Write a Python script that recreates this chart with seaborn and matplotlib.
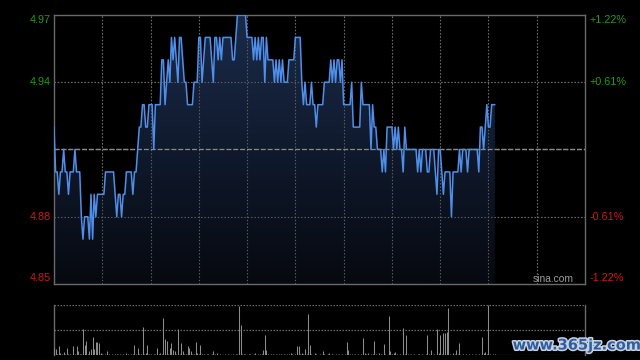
import numpy as np
import matplotlib
matplotlib.use("Agg")
import matplotlib.pyplot as plt
import seaborn as sns
import matplotlib.patheffects as pe
from matplotlib.patches import Polygon

# ---------------- data ----------------
minutes = list(range(275))
price = [
    4.92, 4.90, 4.90, 4.89, 4.90, 4.90, 4.91, 4.90, 4.90, 4.89,
    4.90, 4.90, 4.90, 4.91, 4.90, 4.90, 4.90, 4.88, 4.87, 4.88,
    4.88, 4.88, 4.87, 4.89, 4.87, 4.89, 4.88, 4.89, 4.89, 4.89,
    4.89, 4.89, 4.90, 4.90, 4.90, 4.90, 4.90, 4.90, 4.89, 4.88,
    4.89, 4.89, 4.88, 4.89, 4.89, 4.90, 4.90, 4.90, 4.90, 4.89,
    4.90, 4.90, 4.91, 4.92, 4.92, 4.93, 4.93, 4.92, 4.92, 4.93,
    4.93, 4.93, 4.91, 4.93, 4.93, 4.93, 4.93, 4.95, 4.95, 4.93,
    4.94, 4.95, 4.94, 4.96, 4.95, 4.96, 4.95, 4.94, 4.96, 4.96,
    4.95, 4.94, 4.94, 4.93, 4.93, 4.93, 4.93, 4.94, 4.94, 4.94,
    4.96, 4.96, 4.94, 4.95, 4.96, 4.96, 4.96, 4.96, 4.95, 4.94,
    4.96, 4.96, 4.95, 4.96, 4.95, 4.96, 4.96, 4.96, 4.96, 4.96,
    4.96, 4.95, 4.95, 4.96, 4.97, 4.97, 4.97, 4.97, 4.97, 4.97,
    4.96, 4.96, 4.96, 4.96, 4.95, 4.96, 4.95, 4.96, 4.95, 4.96,
    4.96, 4.94, 4.96, 4.95, 4.95, 4.95, 4.95, 4.94, 4.95, 4.94,
    4.95, 4.94, 4.95, 4.94, 4.94, 4.94, 4.95, 4.95, 4.95, 4.95,
    4.96, 4.96, 4.96, 4.96, 4.94, 4.93, 4.94, 4.93, 4.93, 4.93,
    4.94, 4.93, 4.93, 4.92, 4.93, 4.93, 4.93, 4.93, 4.94, 4.94,
    4.94, 4.94, 4.95, 4.94, 4.95, 4.94, 4.95, 4.95, 4.94, 4.95,
    4.93, 4.93, 4.93, 4.93, 4.93, 4.94, 4.92, 4.92, 4.92, 4.92,
    4.92, 4.94, 4.93, 4.93, 4.93, 4.93, 4.93, 4.91, 4.93, 4.92,
    4.92, 4.91, 4.91, 4.91, 4.90, 4.91, 4.90, 4.92, 4.92, 4.92,
    4.92, 4.91, 4.92, 4.91, 4.92, 4.91, 4.91, 4.90, 4.92, 4.91,
    4.91, 4.91, 4.91, 4.91, 4.91, 4.91, 4.90, 4.91, 4.90, 4.91,
    4.91, 4.91, 4.90, 4.90, 4.91, 4.91, 4.91, 4.90, 4.89, 4.91,
    4.91, 4.90, 4.89, 4.90, 4.90, 4.90, 4.90, 4.88, 4.90, 4.90,
    4.90, 4.90, 4.91, 4.90, 4.91, 4.91, 4.91, 4.90, 4.91, 4.91,
    4.91, 4.91, 4.91, 4.91, 4.90, 4.92, 4.92, 4.91, 4.92, 4.93,
    4.92, 4.92, 4.93, 4.93, 4.93,
]
volume = [
    15, 13, 2, 19, 5, 3, 7, 2, 15, 3,
    2, 1, 19, 2, 19, 8, 2, 3, 53, 21,
    29, 2, 9, 12, 37, 13, 27, 26, 25, 5,
    2, 1, 2, 9, 2, 1, 2, 1, 3, 2,
    1, 2, 1, 2, 1, 5, 2, 1, 2, 3,
    21, 2, 15, 3, 2, 57, 2, 5, 21, 2,
    3, 1, 2, 2, 15, 2, 5, 2, 74, 33,
    29, 3, 14, 24, 10, 9, 2, 53, 3, 24,
    9, 2, 2, 18, 14, 9, 2, 3, 26, 5,
    2, 21, 2, 3, 1, 2, 3, 1, 2, 9,
    2, 5, 1, 2, 1, 1, 2, 1, 2, 1,
    1, 2, 1, 2, 3, 98, 61, 2, 3, 2,
    1, 2, 3, 1, 2, 5, 1, 2, 2, 3,
    10, 41, 10, 2, 1, 3, 2, 1, 2, 1,
    3, 2, 1, 2, 1, 2, 3, 5, 2, 1,
    2, 19, 19, 2, 5, 2, 12, 3, 82, 21,
    2, 1, 5, 2, 1, 2, 1, 9, 2, 1,
    2, 5, 1, 2, 1, 2, 1, 2, 1, 2,
    1, 2, 27, 10, 2, 3, 1, 2, 1, 2,
    1, 2, 35, 5, 2, 5, 1, 2, 2, 29,
    2, 1, 5, 2, 1, 23, 2, 1, 78, 9,
    2, 5, 7, 2, 1, 2, 1, 55, 2, 41,
    3, 1, 2, 1, 2, 1, 2, 3, 1, 2,
    1, 2, 41, 2, 10, 1, 2, 1, 53, 5,
    40, 2, 44, 45, 46, 94, 2, 1, 5, 2,
    10, 2, 25, 1, 2, 1, 3, 1, 2, 1,
    3, 1, 2, 1, 2, 1, 37, 5, 7, 2,
    100, 3, 1, 2, 2,
]
prev_close = 4.91
left_ticks = [4.97, 4.94, 4.88, 4.85]
left_labels = ["4.97", "4.94", "4.88", "4.85"]
right_labels = ["+1.22%", "+0.61%", "-0.61%", "-1.22%"]
label_colors = ["#1f9a1f", "#1f9a1f", "#cc1a1a", "#cc1a1a"]
grid_minutes = [30, 60, 90, 120, 150, 180, 210, 240, 270, 300]

# ---------------- style ----------------
sns.set_theme(style="dark")
plt.rcParams['font.family'] = ['Liberation Sans', 'DejaVu Sans']

W, H = 640, 360
fig = plt.figure(figsize=(6.4, 3.6), dpi=100, facecolor="black")

def fx(px):
    return px / W

def fy(py):
    return 1 - py / H

ax = fig.add_axes([fx(54), fy(284), fx(585) - fx(54), fy(15) - fy(284)])
axv = fig.add_axes([fx(54), fy(355), fx(585) - fx(54), fy(305) - fy(355)])

YMIN, YMAX = 4.85, 4.97
XMAX = 330
grid_c = "#6a6a6a"
border_c = "#6a6a6a"

for a in (ax, axv):
    a.set_facecolor("black")
    a.set_xlim(0, XMAX)
    a.set_xticks([])
    a.set_yticks([])
    a.grid(False)
    a.set_xlabel("")
    a.set_ylabel("")

ax.set_ylim(YMIN, YMAX)
for s in ax.spines.values():
    s.set_color(border_c)
    s.set_linewidth(1.0)
    s.set_visible(True)

# grid lines of the price panel
for m in grid_minutes:
    ax.axvline(m, color=grid_c, lw=0.8, ls=(0, (1.2, 1.8)), zorder=1)
for yv in (4.94, 4.88):
    ax.axhline(yv, color=grid_c, lw=0.8, ls=(0, (1.2, 1.8)), zorder=1)
ax.axhline(prev_close, color="#8a8a8a", lw=0.9, ls=(0, (4, 1.5)), zorder=1)

# gradient area under the line
grad = np.linspace(1, 0, 256).reshape(-1, 1)
c_top = np.array([0x1a, 0x2b, 0x4a]) / 255
c_bot = np.array([0x06, 0x09, 0x10]) / 255
img = c_bot + (c_top - c_bot) * grad[..., None]
img = img.reshape(256, 1, 3)
im = ax.imshow(img, extent=[0, XMAX, YMIN, YMAX], aspect="auto", origin="upper", zorder=2)
poly_pts = [(minutes[0], YMIN)] + list(zip(minutes, price)) + [(minutes[-1], YMIN)]
clip = Polygon(poly_pts, closed=True, transform=ax.transData, facecolor="none", edgecolor="none")
ax.add_patch(clip)
im.set_clip_path(clip)

# grid lines over fill too (they show faintly through)
for m in grid_minutes:
    ax.axvline(m, color=grid_c, lw=0.8, ls=(0, (1.2, 1.8)), zorder=3, alpha=0.9)
for yv in (4.94, 4.88):
    ax.axhline(yv, color=grid_c, lw=0.8, ls=(0, (1.2, 1.8)), zorder=3, alpha=0.9)
ax.axhline(prev_close, color="#8a8a8a", lw=0.9, ls=(0, (4, 1.5)), zorder=3)

sns.lineplot(x=minutes, y=price, ax=ax, color="#4f8fea", lw=1.1, zorder=5, legend=False)
ax.set_xlim(0, XMAX)
ax.set_ylim(YMIN, YMAX)
ax.set_xlabel("")
ax.set_ylabel("")

# axis labels (left prices, right percentages)
ypix = [20, 82, 217, 278]
for yp, lt, rt, c in zip(ypix, left_labels, right_labels, label_colors):
    fig.text(fx(51), fy(yp), lt, color=c, fontsize=7.8, ha="right", va="center")
    fig.text(fx(590), fy(yp), rt, color=c, fontsize=7.8, ha="left", va="center")

fig.text(fx(553), fy(279.5), "sina.com", color="#9a9a9a", fontsize=7.4, ha="center", va="center")

# ---------------- volume panel ----------------
axv.set_ylim(0, 100)
for side in ("left", "right"):
    axv.spines[side].set_color(border_c)
    axv.spines[side].set_linewidth(1.0)
    axv.spines[side].set_visible(True)
for side in ("top", "bottom"):
    axv.spines[side].set_visible(False)
axv.axhline(100, color=grid_c, lw=0.9, ls=(0, (1.2, 1.2)), zorder=1)
axv.axhline(50, color=grid_c, lw=0.9, ls=(0, (1.2, 1.2)), zorder=1)
axv.axhline(0, color=grid_c, lw=0.9, ls=(0, (1.2, 1.2)), zorder=1)
axv.vlines(minutes, 0, volume, color="#8c8c8c", lw=0.75, zorder=3)

# watermark
fig.text(fx(577), fy(345), "www.365jz.com", color="#2d5ea3", fontsize=10.5,
         fontweight="bold", family=["DejaVu Sans"], ha="center", va="center",
         path_effects=[pe.withStroke(linewidth=2.2, foreground="#c9d3e0")])

fig.savefig("out.png", dpi=100, facecolor="black")
